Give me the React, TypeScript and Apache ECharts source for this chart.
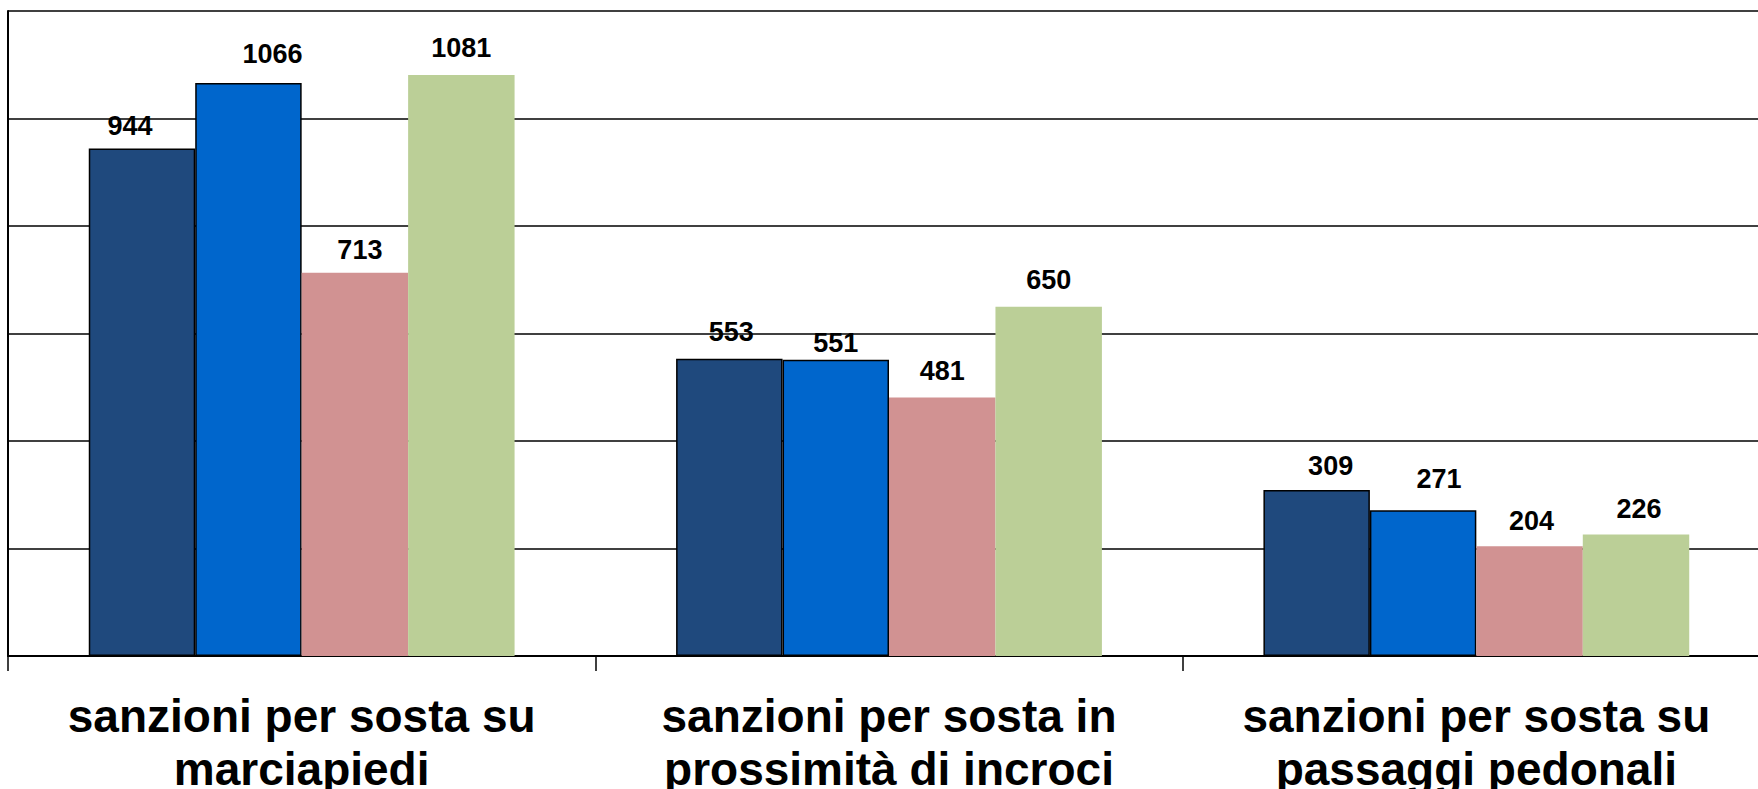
import React, { useEffect, useRef } from "react";
import * as echarts from "echarts";

const categories = [
  "sanzioni per sosta su\nmarciapiedi",
  "sanzioni per sosta in\nprossimità di incroci",
  "sanzioni per sosta su\npassaggi pedonali",
];
const seriesA = [944, 553, 309];
const seriesB = [1066, 551, 271];
const seriesC = [713, 481, 204];
const seriesD = [1081, 650, 226];

const colors = ["#1F497D", "#0066CC", "#D19292", "#BBCF97"];
const bordered = [true, true, false, false];

// manual label nudges (as placed in the original), [dx, dy] in px per series/category
const labelNudges: number[][][] = [
  [[-12, -2], [2, -6], [14, -3]],
  [[24, -9], [0, 4], [16, -11]],
  [[5, -2], [0, -6], [2, -5]],
  [[0, -6], [0, -6], [3, -5]],
];

export default function App() {
  const ref = useRef<HTMLDivElement>(null);
  useEffect(() => {
    if (!ref.current) return;
    const chart = echarts.init(ref.current, null, { renderer: "svg" });
    const font = "'Liberation Sans', Arial, sans-serif";
    const all = [seriesA, seriesB, seriesC, seriesD];
    chart.setOption({
      animation: false,
      backgroundColor: "#ffffff",
      grid: {
        left: 8,
        top: 11,
        width: 1762,
        height: 645,
        containLabel: false,
        outerBoundsMode: "none",
      },
      xAxis: {
        type: "category",
        data: categories,
        axisLine: { show: true, lineStyle: { color: "#000", width: 2 } },
        axisTick: { show: true, length: 15, interval: 0, lineStyle: { color: "#000", width: 1.5 } },
        axisLabel: {
          interval: 0,
          margin: 33,
          color: "#000",
          fontFamily: font,
          fontWeight: "bold",
          fontSize: 46,
          lineHeight: 53,
        },
      },
      yAxis: {
        type: "value",
        min: 0,
        max: 1200,
        interval: 200,
        axisLabel: { show: false },
        axisTick: { show: false },
        axisLine: { show: true, lineStyle: { color: "#000", width: 2 } },
        splitLine: { show: true, lineStyle: { color: "#000", width: 1.5 } },
      },
      series: all.map((d, i) => ({
        type: "bar",
        data: d.map((v, j) => ({ value: v, label: { offset: labelNudges[i][j] } })),
        barGap: "0%",
        barCategoryGap: "27.5%",
        itemStyle: {
          color: colors[i],
          borderColor: bordered[i] ? "#000" : colors[i],
          borderWidth: bordered[i] ? 1.5 : 0,
        },
        label: {
          show: true,
          position: "top",
          distance: 7,
          color: "#000",
          fontFamily: font,
          fontWeight: "bold",
          fontSize: 27,
        },
      })),
    });
    return () => chart.dispose();
  }, []);
  return (
    <div
      ref={ref}
      style={{ position: "fixed", left: 0, top: 0, width: 1758, height: 789, background: "#fff" }}
    />
  );
}
